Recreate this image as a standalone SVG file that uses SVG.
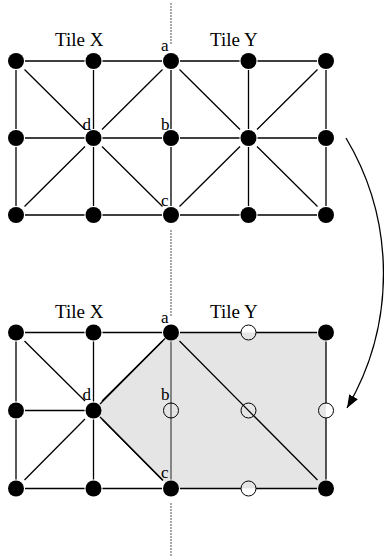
<svg xmlns="http://www.w3.org/2000/svg" width="384" height="557" viewBox="0 0 384 557">
<style>
.e{stroke:#000;stroke-width:1.3;fill:none}
.dash{stroke:#555;stroke-width:1;stroke-dasharray:2 1;fill:none}
.dot{fill:#000}
.hol{fill:none;stroke:#000;stroke-width:1}
.t{font-family:"Liberation Serif",serif;font-size:19px;fill:#000}
.l{font-family:"Liberation Serif",serif;font-size:17px;fill:#000}
</style>
<defs>
<marker id="ah" markerWidth="14" markerHeight="10" refX="13" refY="5" orient="auto" markerUnits="userSpaceOnUse">
<path d="M0,0 L13,5 L0,10 Z" fill="#000"/>
</marker>
</defs>
<rect width="384" height="557" fill="#fff"/>
<g id="shade">
<polygon points="171,332.5 326,332.5 326,488.5 171,488.5 93.5,410.5" fill="#e5e5e5"/>
</g>
<g id="connectors">
<path class="dash" d="M171,3V45M171,230V316M171,503V557"/>
<path class="e" d="M25,61H84.5M102.5,61H162M180,61H239.5M257.5,61H317
M25,138H84.5M102.5,138H162M180,138H239.5M257.5,138H317
M25,215H84.5M102.5,215H162M180,215H239.5M257.5,215H317
M16,70V129M16,147V206M93.5,70V129M93.5,147V206M171,70V129M171,147V206M248.5,70V129M248.5,147V206M326,70V129M326,147V206
M24.5,69.5L85,129.5M162.5,69.5L102,129.5M85,146.5L24.5,206.5M102,146.5L162.5,206.5
M179.5,69.5L240,129.5M317.5,69.5L257,129.5M240,146.5L179.5,206.5M257,146.5L317.5,206.5"/>
<path class="e" d="M25,332.5H84.5M102.5,332.5H162M180,332.5H241M256,332.5H317
M25,410.5H84.5
M25,488.5H84.5M102.5,488.5H162M180,488.5H241M256,488.5H317
M16,341.5V401.5M16,419.5V479.5M93.5,341.5V401.5M93.5,419.5V479.5
M326,341.5V403M326,418V479.5
M24.5,341L85,401M162.5,341L102,401M85,419L24.5,480M102,419L162.5,480
M179.5,341L317.5,480"/>
<path d="M171,341.5V479.5" stroke="#444" stroke-width="1.2" fill="none"/>
<path class="e" d="M100,404 L165,338.5M100,417 L163,480.5"/>
<path class="e" d="M346,138 A265,265 0 0 1 347,408" stroke-width="1.1" marker-end="url(#ah)"/>
</g>
<g id="labels">
<text class="t" x="55" y="46">Tile X</text>
<text class="t" x="210" y="46">Tile Y</text>
<text class="t" x="55" y="318">Tile X</text>
<text class="t" x="210" y="318">Tile Y</text>
</g>
<g id="top-nodes">
<g id="t00"><circle class="dot" cx="16" cy="61" r="8"/></g>
<g id="t01"><circle class="dot" cx="93.5" cy="61" r="8"/></g>
<g id="t-a"><circle class="dot" cx="171" cy="61" r="8"/><text class="l" x="161" y="51">a</text></g>
<g id="t03"><circle class="dot" cx="248.5" cy="61" r="8"/></g>
<g id="t04"><circle class="dot" cx="326" cy="61" r="8"/></g>
<g id="t10"><circle class="dot" cx="16" cy="138" r="8"/></g>
<g id="t-d"><circle class="dot" cx="93.5" cy="138" r="8"/><text class="l" x="82.5" y="130">d</text></g>
<g id="t-b"><circle class="dot" cx="171" cy="138" r="8"/><text class="l" x="161" y="130">b</text></g>
<g id="t13"><circle class="dot" cx="248.5" cy="138" r="8"/></g>
<g id="t14"><circle class="dot" cx="326" cy="138" r="8"/></g>
<g id="t20"><circle class="dot" cx="16" cy="215" r="8"/></g>
<g id="t21"><circle class="dot" cx="93.5" cy="215" r="8"/></g>
<g id="t-c"><circle class="dot" cx="171" cy="215" r="8"/><text class="l" x="161" y="206">c</text></g>
<g id="t23"><circle class="dot" cx="248.5" cy="215" r="8"/></g>
<g id="t24"><circle class="dot" cx="326" cy="215" r="8"/></g>
</g>
<g id="bottom-nodes">
<g id="b00"><circle class="dot" cx="16" cy="332.5" r="8"/></g>
<g id="b01"><circle class="dot" cx="93.5" cy="332.5" r="8"/></g>
<g id="b-a"><circle class="dot" cx="171" cy="332.5" r="8"/><text class="l" x="161" y="323">a</text></g>
<g id="b03"><circle class="hol" cx="248.5" cy="332.5" r="7.5"/></g>
<g id="b04"><circle class="dot" cx="326" cy="332.5" r="8"/></g>
<g id="b10"><circle class="dot" cx="16" cy="410.5" r="8"/></g>
<g id="b-d"><circle class="dot" cx="93.5" cy="410.5" r="8"/><text class="l" x="82.5" y="400">d</text></g>
<g id="b-b"><circle class="hol" cx="171" cy="410.5" r="7.5"/><text class="l" x="161" y="400">b</text></g>
<g id="b13"><circle class="hol" cx="248.5" cy="410.5" r="7.5"/></g>
<g id="b14"><circle class="hol" cx="326" cy="410.5" r="7.5"/></g>
<g id="b20"><circle class="dot" cx="16" cy="488.5" r="8"/></g>
<g id="b21"><circle class="dot" cx="93.5" cy="488.5" r="8"/></g>
<g id="b-c"><circle class="dot" cx="171" cy="488.5" r="8"/><text class="l" x="161" y="478">c</text></g>
<g id="b23"><circle class="hol" cx="248.5" cy="488.5" r="7.5"/></g>
<g id="b24"><circle class="dot" cx="326" cy="488.5" r="8"/></g>
</g>
</svg>
